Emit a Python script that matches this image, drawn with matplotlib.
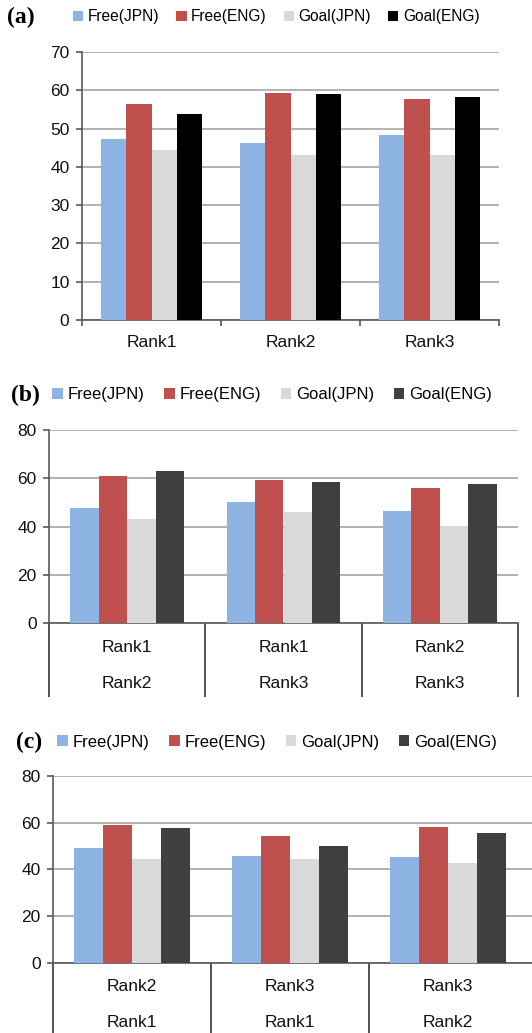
import matplotlib

matplotlib.use("Agg")
import matplotlib.pyplot as plt
import numpy as np

plt.rcParams["font.family"] = ["Liberation Sans", "DejaVu Sans"]

SERIES = ["Free(JPN)", "Free(ENG)", "Goal(JPN)", "Goal(ENG)"]

# panel (a)
a_cats = ["Rank1", "Rank2", "Rank3"]
a_free_jpn = [47.2, 46.3, 48.2]
a_free_eng = [56.4, 59.4, 57.6]
a_goal_jpn = [44.3, 43.0, 43.0]
a_goal_eng = [53.7, 59.0, 58.2]

# panel (b)
b_cats = ["Rank1\nRank2", "Rank1\nRank3", "Rank2\nRank3"]
b_free_jpn = [47.9, 50.2, 46.5]
b_free_eng = [60.8, 59.3, 56.0]
b_goal_jpn = [43.2, 46.1, 40.3]
b_goal_eng = [62.9, 58.6, 57.8]

# panel (c)
c_cats = ["Rank2\nRank1", "Rank3\nRank1", "Rank3\nRank2"]
c_free_jpn = [49.0, 45.6, 45.1]
c_free_eng = [58.9, 54.1, 58.1]
c_goal_jpn = [44.4, 44.4, 42.7]
c_goal_eng = [57.7, 49.9, 55.6]

BLUE = "#8eb4e3"
RED = "#c0504d"
LIGHT = "#d9d9d9"
GRID = "#a6a6a6"
AXIS = "#595959"

W, H = 532, 1033
BAR_W = 0.182


def px_axes(fig, left, right, top, bottom):
    return fig.add_axes([left / W, 1 - bottom / H, (right - left) / W, (bottom - top) / H])


def draw_panel(ax, cats, series, colors, ymax, ystep, letter, legend_y, legend_x, letter_x,
               long_sep=True, xmax=2.5, seps=(-0.5, 0.5, 1.5, 2.5),
               legend_size=12, col_space=1.15):
    x = np.arange(len(cats))
    for k, (vals, col) in enumerate(zip(series, colors)):
        ax.bar(x + (k - 1.5) * BAR_W, vals, BAR_W, color=col, label=SERIES[k],
               edgecolor="none", zorder=3)
    ax.set_xlim(-0.5, xmax)
    ax.set_ylim(0, ymax)
    ax.set_yticks(np.arange(0, ymax + 1, ystep))
    ax.yaxis.grid(True, color=GRID, linewidth=1.2)
    ax.set_axisbelow(True)
    for s in ("top", "right"):
        ax.spines[s].set_visible(False)
    ax.spines["left"].set_color(AXIS)
    ax.spines["bottom"].set_color(AXIS)
    ax.spines["left"].set_linewidth(1.2)
    ax.spines["bottom"].set_linewidth(1.2)
    ax.tick_params(axis="y", direction="out", length=4, width=1.2, color=AXIS,
                   pad=5, labelsize=12.5, labelcolor="#111111")
    ax.set_xticks(x)
    ax.set_xticklabels(cats, fontsize=12.5, color="#111111", linespacing=2.75)
    ax.set_xticks(list(seps), minor=True)
    if long_sep:
        ax.tick_params(axis="x", which="major", length=0, pad=12)
        ax.tick_params(axis="x", which="minor", direction="out", length=53, width=1.2, color="#333333")
    else:
        ax.tick_params(axis="x", which="major", length=0, pad=11)
        ax.tick_params(axis="x", which="minor", direction="out", length=4, width=1.2, color=AXIS)

    fig = ax.figure
    ax.legend(loc="center left", bbox_to_anchor=(legend_x / W, 1 - legend_y / H),
              bbox_transform=fig.transFigure, ncol=4, frameon=False, fontsize=legend_size,
              handlelength=0.65, handleheight=0.65, handletextpad=0.3,
              columnspacing=col_space, borderpad=0, borderaxespad=0)
    fig.text(letter_x / W, 1 - legend_y / H, letter, family=["Liberation Serif", "DejaVu Serif"],
             fontweight="bold", fontsize=17, va="center", ha="left")


fig = plt.figure(figsize=(W / 100, H / 100), dpi=100)

ax_a = px_axes(fig, 82, 499, 52, 320)
draw_panel(ax_a, a_cats, [a_free_jpn, a_free_eng, a_goal_jpn, a_goal_eng],
           [BLUE, RED, LIGHT, "#000000"], 70, 10, "(a)", 17, 73, 7, long_sep=False,
           legend_size=11.2, col_space=1.1)

ax_b = px_axes(fig, 49, 518, 430, 623.3)
draw_panel(ax_b, b_cats, [b_free_jpn, b_free_eng, b_goal_jpn, b_goal_eng],
           [BLUE, RED, LIGHT, "#404040"], 80, 20, "(b)", 395, 52, 11)

ax_c = px_axes(fig, 53, 545, 776, 962.7)
draw_panel(ax_c, c_cats, [c_free_jpn, c_free_eng, c_goal_jpn, c_goal_eng],
           [BLUE, RED, LIGHT, "#404040"], 80, 20, "(c)", 742, 57, 16,
           xmax=-0.5 + (545 - 53) / 158, seps=(-0.5, 0.5, 1.5))

fig.savefig("out.png", dpi=100, facecolor="white")
